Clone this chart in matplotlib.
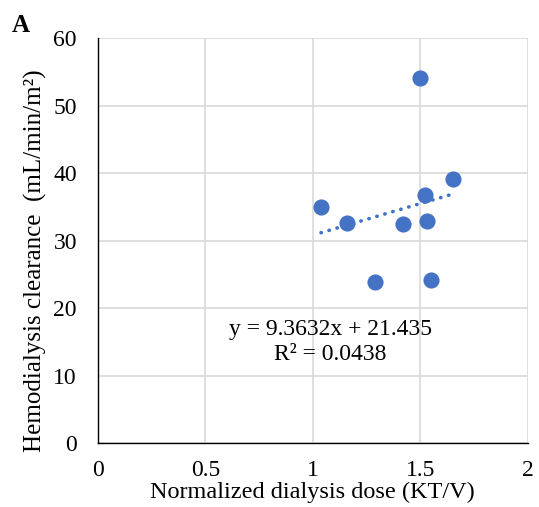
import matplotlib
matplotlib.use("Agg")
import matplotlib.pyplot as plt
import numpy as np

# Data
kt_v = [1.038, 1.160, 1.290, 1.418, 1.498, 1.520, 1.529, 1.549, 1.650]
clearance = [34.9, 32.6, 23.8, 32.5, 54.1, 36.7, 32.9, 24.2, 39.1]
slope = 9.3632
intercept = 21.435
r2 = 0.0438
x_ticks = [0, 0.5, 1, 1.5, 2]
x_tick_labels = ["0", "0.5", "1", "1.5", "2"]
y_ticks = [0, 10, 20, 30, 40, 50, 60]

plt.rcParams['font.family'] = ['Liberation Serif', 'DejaVu Serif']
blue = '#4472C4'

fig = plt.figure(figsize=(5.39, 5.07), dpi=100)
ax = fig.add_axes([0.1813, 0.1262, 0.7983, 0.7988])

ax.scatter(kt_v, clearance, s=135, color=blue, zorder=3, linewidths=0)
xs = np.array([min(kt_v), max(kt_v)])
ax.plot(xs, slope * xs + intercept, linestyle=(0, (0.1, 2.2)), dash_capstyle='round',
        color=blue, linewidth=2.6, zorder=2)

ax.set_xlim(0, 2)
ax.set_ylim(0, 60)
ax.set_xticks(x_ticks)
ax.set_xticklabels(x_tick_labels)
ax.set_yticks(y_ticks)
ax.tick_params(axis='both', length=0, labelsize=17)
ax.tick_params(axis='y', pad=15)
ax.tick_params(axis='x', pad=12)
ax.grid(True, color='#D9D9D9', linewidth=1.2, zorder=0)
ax.set_axisbelow(True)
for side in ['top', 'right']:
    ax.spines[side].set_visible(False)
for side in ['left', 'bottom']:
    ax.spines[side].set_color('black')
    ax.spines[side].set_linewidth(1.0)

ax.set_xlabel("Normalized dialysis dose (KT/V)", fontsize=17.5, labelpad=1)
ax.set_ylabel("Hemodialysis clearance  (mL/min/m²)", fontsize=18)
ax.yaxis.set_label_coords(-0.118, 0.45)

ax.text(1.08, 14.9, f"y = {slope}x + {intercept}\nR² = {r2}", fontsize=17,
        ha='center', va='center', linespacing=1.25)

fig.text(0.022, 0.95, "A", fontsize=18, fontweight='bold', va='center', ha='left')

fig.savefig("out.png", dpi=100)
